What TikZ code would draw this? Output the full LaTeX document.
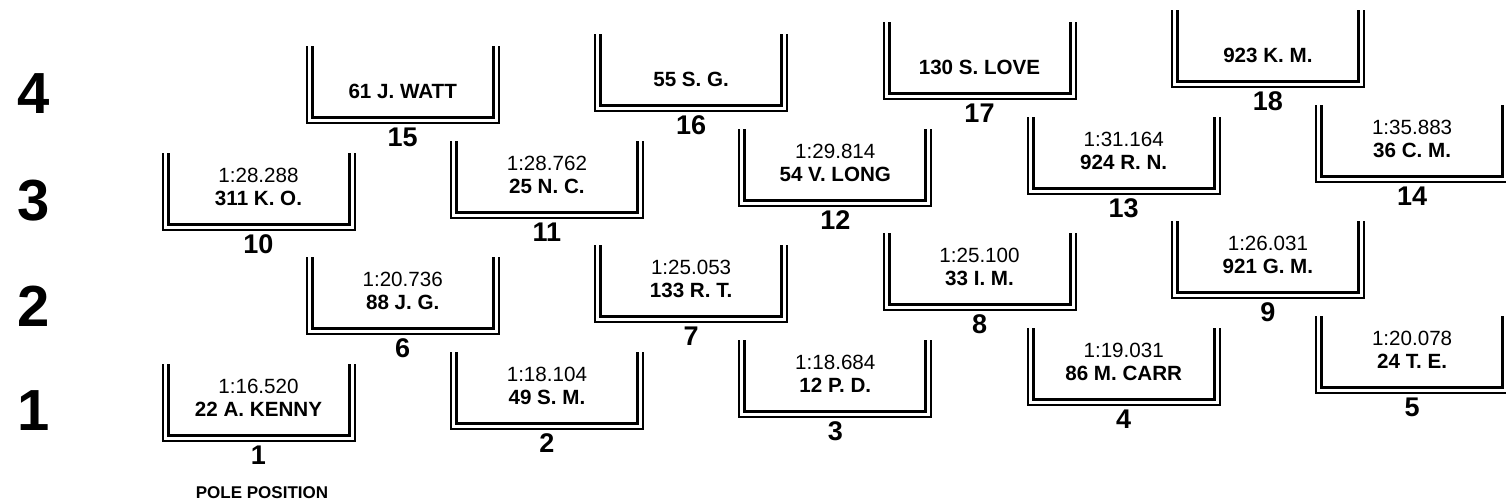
\documentclass[tikz,border=0pt]{standalone}
\usepackage{fontspec}
\setmainfont{Liberation Sans}
\tikzset{
  outerline/.style={line width=1pt, line join=miter},
  innerline/.style={line width=1.5pt, line join=miter},
  txtbase/.style={inner sep=0pt, text height=0.72em, text depth=0pt, anchor=center},
  timetxt/.style={txtbase, font=\fontsize{10.3}{12}\selectfont},
  nametxt/.style={txtbase, font=\fontsize{10.3}{12}\selectfont\bfseries},
  gridnum/.style={txtbase, font=\fontsize{13.5}{16}\selectfont\bfseries},
  lanenum/.style={txtbase, font=\fontsize{29}{32}\selectfont\bfseries},
  poletxt/.style={txtbase, font=\fontsize{8.5}{10}\selectfont\bfseries}
}
% #1 id, #2 left x, #3 bottom y, #4 name, #5 grid number
\newcommand\gridslot[5]{%
  \draw[outerline] (#2,#3-77) -- (#2,#3) -- (#2+192,#3) -- (#2+192,#3-77);
  \draw[innerline] (#2+5.5,#3-77) -- (#2+5.5,#3-5.5) -- (#2+186.5,#3-5.5) -- (#2+186.5,#3-77);
  \node[nametxt] (n#1) at (#2+96,#3-32) {#4};
  \node[gridnum] (g#1) at (#2+96,#3+16) {#5};
}
% #1 id, #2 left x, #3 bottom y, #4 time, #5 name, #6 grid number
\newcommand\timedslot[6]{%
  \gridslot{#1}{#2}{#3}{#5}{#6}
  \node[timetxt] (t#1) at (#2+96,#3-55) {#4};
}
\begin{document}
\begin{tikzpicture}[x=0.5pt,y=-0.5pt]
\useasboundingbox (0,0) rectangle (1506,503);
% lane numbers
\node[lanenum] (lane4) at (34,106) {4};
\node[lanenum] (lane3) at (34,213) {3};
\node[lanenum] (lane2) at (34,319) {2};
\node[lanenum] (lane1) at (34,423) {1};
% lane 1
\timedslot{1}{162.5}{441}{1:16.520}{22 A. KENNY}{1}
\timedslot{2}{450.9}{429}{1:18.104}{49 S. M.}{2}
\timedslot{3}{739.3}{417}{1:18.684}{12 P. D.}{3}
\timedslot{4}{1027.7}{405}{1:19.031}{86 M. CARR}{4}
\timedslot{5}{1316.1}{393}{1:20.078}{24 T. E.}{5}
% lane 2
\timedslot{6}{306.7}{334}{1:20.736}{88 J. G.}{6}
\timedslot{7}{595.1}{322}{1:25.053}{133 R. T.}{7}
\timedslot{8}{883.5}{310}{1:25.100}{33 I. M.}{8}
\timedslot{9}{1171.9}{298}{1:26.031}{921 G. M.}{9}
% lane 3
\timedslot{10}{162.5}{230}{1:28.288}{311 K. O.}{10}
\timedslot{11}{450.9}{218}{1:28.762}{25 N. C.}{11}
\timedslot{12}{739.3}{206}{1:29.814}{54 V. LONG}{12}
\timedslot{13}{1027.7}{194}{1:31.164}{924 R. N.}{13}
\timedslot{14}{1316.1}{182}{1:35.883}{36 C. M.}{14}
% lane 4
\gridslot{15}{306.7}{123}{61 J. WATT}{15}
\gridslot{16}{595.1}{111}{55 S. G.}{16}
\gridslot{17}{883.5}{99}{130 S. LOVE}{17}
\gridslot{18}{1171.9}{87}{923 K. M.}{18}
% pole position
\node[poletxt] (pole) at (262,491) {POLE POSITION};
\end{tikzpicture}
\end{document}
